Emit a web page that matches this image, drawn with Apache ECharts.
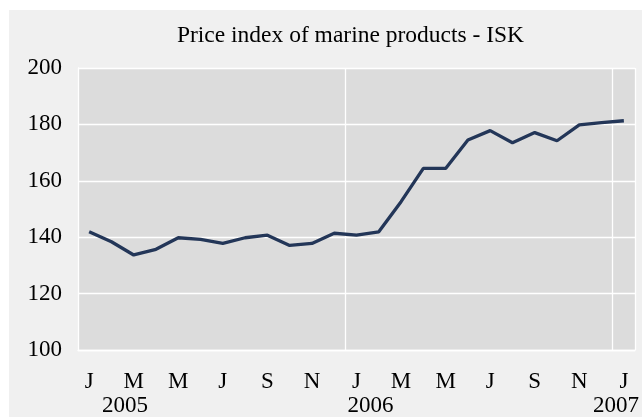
<!DOCTYPE html>
<html>
<head>
<meta charset="utf-8">
<script src="https://cdn.jsdelivr.net/npm/echarts@6/dist/echarts.min.js"></script>
<style>
  html, body { margin: 0; padding: 0; background: #ffffff; }
  #wrap { position: relative; width: 642px; height: 417px; background: #ffffff; overflow: hidden; }
  #chart { position: absolute; left: 9px; top: 10px; width: 633px; height: 407px; background: #f0f0f0; }
</style>
</head>
<body>
<div id="wrap"><div id="chart"></div></div>
<script>
// ---- data ----
const months = [
  'Jan 2005','Feb 2005','Mar 2005','Apr 2005','May 2005','Jun 2005',
  'Jul 2005','Aug 2005','Sep 2005','Oct 2005','Nov 2005','Dec 2005',
  'Jan 2006','Feb 2006','Mar 2006','Apr 2006','May 2006','Jun 2006',
  'Jul 2006','Aug 2006','Sep 2006','Oct 2006','Nov 2006','Dec 2006',
  'Jan 2007'
];
const priceIndex = [
  141.9, 138.4, 133.7, 135.7, 139.8, 139.2, 137.8, 139.8, 140.7, 137.1, 137.8, 141.4,
  140.7, 141.9, 152.6, 164.4, 164.4, 174.5, 177.8, 173.5, 177.1, 174.2, 179.8, 180.6,
  181.3
];
const yearLabels = ['2005', '2006', '2007'];
const yTicks = { min: 100, max: 200, step: 20 };
const titleText = 'Price index of marine products - ISK';

const FONT = "'Liberation Serif', 'Times New Roman', serif";
const chart = echarts.init(document.getElementById('chart'), null, { renderer: 'canvas' });

chart.setOption({
  backgroundColor: '#f0f0f0',
  animation: false,
  title: {
    text: titleText,
    left: 336.5,
    top: 9,
    textAlign: 'center',
    textStyle: { fontFamily: FONT, fontSize: 23.5, fontWeight: 'normal', color: '#000000' }
  },
  grid: [
    { left: 69, right: 7, top: 58, bottom: 67, show: true, backgroundColor: '#dcdcdc', borderWidth: 0 },
    { left: 116, right: 22, top: 58, bottom: 67, show: false }
  ],
  xAxis: [
    {
      type: 'category',
      gridIndex: 0,
      data: months,
      boundaryGap: true,
      axisLine: { show: true, lineStyle: { color: '#ffffff', width: 1.3 } },
      axisTick: { show: false },
      axisLabel: {
        interval: 1,
        margin: 20,
        fontFamily: FONT, fontSize: 23, color: '#000000',
        formatter: function (v) { return v.charAt(0); }
      },
      splitLine: {
        show: true,
        interval: function (idx) { return idx === 12 || idx === 24; },
        lineStyle: { color: '#ffffff', width: 1.3 }
      }
    },
    {
      type: 'category',
      gridIndex: 1,
      data: yearLabels,
      boundaryGap: false,
      axisLine: { show: false },
      axisTick: { show: false },
      splitLine: { show: false },
      axisLabel: {
        interval: 0,
        margin: 45,
        fontFamily: FONT, fontSize: 23, color: '#000000'
      }
    }
  ],
  yAxis: [
    {
      type: 'value',
      gridIndex: 0,
      min: yTicks.min,
      max: yTicks.max,
      interval: yTicks.step,
      axisLine: { show: true, lineStyle: { color: '#ffffff', width: 1.3 } },
      axisTick: { show: false },
      axisLabel: { margin: 16, fontFamily: FONT, fontSize: 23, color: '#000000' },
      splitLine: { show: true, lineStyle: { color: '#ffffff', width: 1.3 } }
    },
    {
      type: 'value',
      gridIndex: 1,
      show: false
    }
  ],
  series: [
    {
      type: 'line',
      xAxisIndex: 0,
      yAxisIndex: 0,
      data: priceIndex,
      symbol: 'none',
      lineStyle: { color: '#233658', width: 3.3 },
      z: 5
    }
  ]
});
</script>
</body>
</html>
